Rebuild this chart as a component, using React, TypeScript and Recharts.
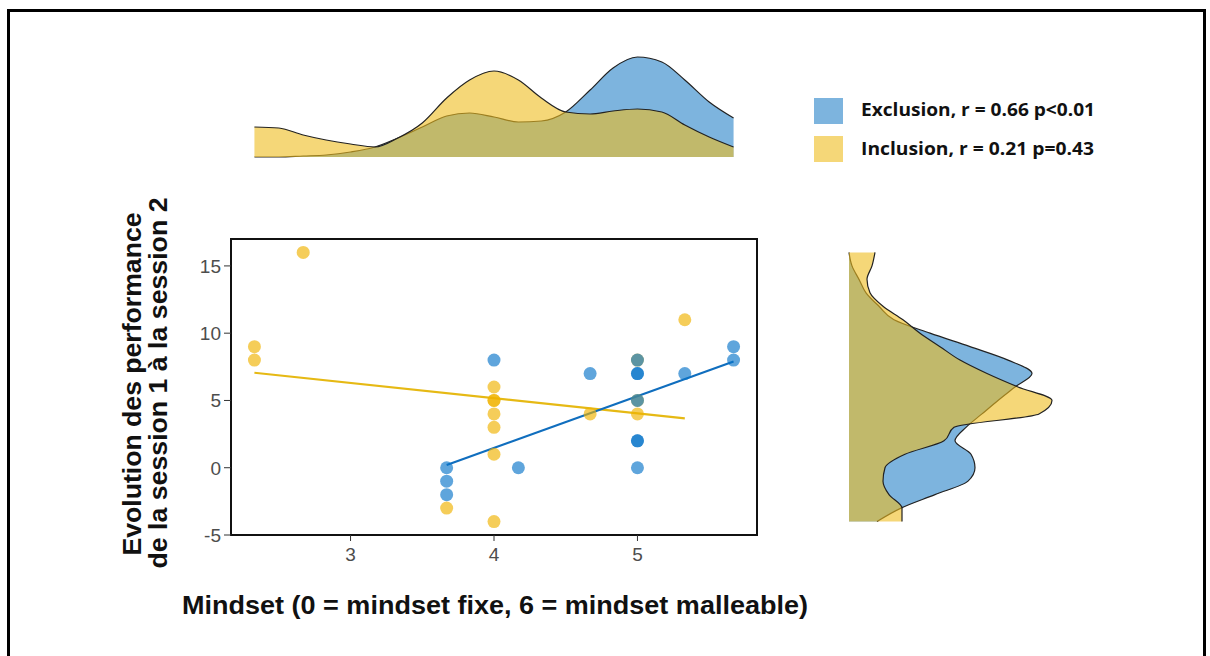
import {
  ComposedChart, Scatter, Line, XAxis, YAxis, ReferenceArea, AreaChart, Area,
} from 'recharts'

const EXCL = '#0975c9' // points exclusion
const INCL = '#f0b200' // points inclusion
const EXCL_LINE = '#106ebe'
const INCL_LINE = '#e6b914'
const EXCL_FILL = '#2682c8' // densité, alpha 0.6
const INCL_FILL = '#eebc1e'
const TXT = '#4d4d4d'

const xDomain = [2.1667, 5.8333]
const yDomain = [-5, 17]
const xTicks = [3, 4, 5]
const yTicks = [-5, 0, 5, 10, 15]

// nuage de points (mindset, évolution)
const exclusionPts = [
  { x: 3.67, y: 0 }, { x: 3.67, y: -1 }, { x: 3.67, y: -2 }, { x: 4, y: 8 },
  { x: 4.17, y: 0 }, { x: 4.67, y: 7 }, { x: 5, y: 8 }, { x: 5, y: 7 },
  { x: 5, y: 7 }, { x: 5, y: 5 }, { x: 5, y: 2 }, { x: 5, y: 2 },
  { x: 5, y: 0 }, { x: 5.33, y: 7 }, { x: 5.67, y: 9 }, { x: 5.67, y: 8 },
]
const inclusionPts = [
  { x: 2.33, y: 9 }, { x: 2.33, y: 8 }, { x: 2.67, y: 16 }, { x: 3.67, y: -3 },
  { x: 4, y: 6 }, { x: 4, y: 5 }, { x: 4, y: 5 }, { x: 4, y: 4 },
  { x: 4, y: 3 }, { x: 4, y: 1 }, { x: 4, y: -4 }, { x: 4.67, y: 4 },
  { x: 5, y: 8 }, { x: 5, y: 5 }, { x: 5, y: 4 }, { x: 5.33, y: 11 },
]

// droites de régression (extrémités)
const exclusionFit = [{ x: 3.67, y: 0.2 }, { x: 5.67, y: 7.9 }]
const inclusionFit = [{ x: 2.33, y: 7.06 }, { x: 5.33, y: 3.67 }]

// densité marginale du haut (mindset)
const topX = [2.33, 2.5, 2.67, 2.83, 3, 3.17, 3.33, 3.5, 3.67, 3.83, 4, 4.17, 4.33, 4.5, 4.67, 4.83, 5, 5.17, 5.33, 5.5, 5.67]
const topExcl = [0, 0, 0.01, 0.02, 0.05, 0.1, 0.19, 0.3, 0.41, 0.44, 0.4, 0.35, 0.36, 0.45, 0.67, 0.89, 1.0, 0.95, 0.77, 0.55, 0.39]
const topIncl = [0.3, 0.29, 0.22, 0.17, 0.13, 0.1, 0.19, 0.34, 0.59, 0.77, 0.86, 0.77, 0.59, 0.45, 0.43, 0.46, 0.48, 0.45, 0.32, 0.2, 0.1]

// densité marginale de droite (évolution)
const sideY = [-4, -3, -2, -1, 0, 1, 2, 3, 4, 5, 6, 7, 8, 9, 10, 11, 12, 13, 14, 15, 16]
const sideExcl = [0.28, 0.52, 0.86, 1.19, 1.26, 1.22, 1.06, 1.17, 1.33, 1.49, 1.66, 1.83, 1.59, 1.21, 0.81, 0.45, 0.3, 0.17, 0.1, 0.03, 0]
const sideIncl = [0.53, 0.53, 0.4, 0.34, 0.36, 0.56, 0.95, 1.05, 1.9, 2.03, 1.69, 1.38, 1.11, 0.91, 0.71, 0.54, 0.34, 0.21, 0.18, 0.23, 0.26]

const topData = topX.map((x, i) => ({ x, excl: topExcl[i], incl: topIncl[i] }))
const sideData = sideY.map((y, i) => ({ y, excl: sideExcl[i], incl: sideIncl[i] }))

const dot = (color: string) => (p: any) => (
  <circle cx={p.cx} cy={p.cy} r={6.5} fill={color} fillOpacity={0.65} />
)

const tickFont = 'Liberation Sans, Arial, sans-serif'

// étiquettes de graduation (taille imposée)
const XTick = (p: any) => (
  <text x={p.x} y={p.y} dy={14} textAnchor="middle" fontSize={19} fill={TXT} fontFamily={tickFont}>
    {p.payload.value}
  </text>
)
const YTick = (p: any) => (
  <text x={p.x} y={p.y} dy={7} textAnchor="end" fontSize={19} fill={TXT} fontFamily={tickFont}>
    {p.payload.value}
  </text>
)

function ScatterPanel() {
  return (
    <ComposedChart width={800} height={580} margin={{ top: 239, right: 43, left: 171, bottom: 15 }}>
      <XAxis type="number" dataKey="x" domain={xDomain} ticks={xTicks} allowDataOverflow
        axisLine={false} tickLine={{ stroke: '#333' }} tickSize={6} tickMargin={6} height={30} tick={XTick} />
      <YAxis type="number" dataKey="y" domain={yDomain} ticks={yTicks} allowDataOverflow
        axisLine={false} tickLine={{ stroke: '#333' }} tickSize={7} tickMargin={3} width={60} tick={YTick} />
      <ReferenceArea x1={xDomain[0]} x2={xDomain[1]} y1={yDomain[0]} y2={yDomain[1]}
        fill="none" stroke="#111" strokeWidth={2} ifOverflow="visible" />
      <Scatter data={inclusionPts} shape={dot(INCL)} isAnimationActive={false} />
      <Scatter data={exclusionPts} shape={dot(EXCL)} isAnimationActive={false} />
      <Line data={inclusionFit} dataKey="y" type="linear" stroke={INCL_LINE} strokeWidth={2.2} dot={false} isAnimationActive={false} />
      <Line data={exclusionFit} dataKey="y" type="linear" stroke={EXCL_LINE} strokeWidth={2.2} dot={false} isAnimationActive={false} />
    </ComposedChart>
  )
}

function TopDensity() {
  return (
    <AreaChart width={800} height={200} data={topData} margin={{ top: 57, right: 43, left: 231, bottom: 43 }}>
      <XAxis type="number" dataKey="x" domain={xDomain} hide />
      <YAxis type="number" domain={[0, 1]} hide />
      <Area type="monotone" dataKey="excl" fill={EXCL_FILL} fillOpacity={0.6} stroke="#222" strokeWidth={1.2} isAnimationActive={false} />
      <Area type="monotone" dataKey="incl" fill={INCL_FILL} fillOpacity={0.6} stroke="#222" strokeWidth={1.2} isAnimationActive={false} />
    </AreaChart>
  )
}

function SideDensity() {
  return (
    <AreaChart width={1100} height={580} data={sideData} layout="vertical" margin={{ top: 239, right: 41, left: 849, bottom: 45 }}>
      <XAxis type="number" domain={[0, 2.1]} hide />
      <YAxis type="number" dataKey="y" domain={yDomain} reversed hide />
      <Area type="monotone" dataKey="excl" fill={EXCL_FILL} fillOpacity={0.6} stroke="#222" strokeWidth={1.2} isAnimationActive={false} />
      <Area type="monotone" dataKey="incl" fill={INCL_FILL} fillOpacity={0.6} stroke="#222" strokeWidth={1.2} isAnimationActive={false} />
    </AreaChart>
  )
}

const abs = { position: 'absolute' as const, left: 0, top: 0 }
const titleFont = 'Liberation Sans, Arial, sans-serif'
const legendFont = 'Open Sans, Lato, sans-serif'

export default function App() {
  return (
    <div style={{ position: 'absolute', left: 0, top: 0, width: 1210, height: 656, overflow: 'hidden', background: '#fff' }}>
      <div style={{ position: 'absolute', left: 7, top: 9, width: 1199, height: 700, border: '3px solid #000', boxSizing: 'border-box' }} />
      <div style={abs}><TopDensity /></div>
      <div style={abs}><SideDensity /></div>
      <div style={abs}><ScatterPanel /></div>
      <svg width={1210} height={656} style={{ ...abs, pointerEvents: 'none' }}>
        <text x={495} y={614} textAnchor="middle" fontFamily={titleFont} fontWeight="bold" fontSize={25}
          textLength={626} lengthAdjust="spacingAndGlyphs" fill="#111">
          Mindset (0 = mindset fixe, 6 = mindset malleable)
        </text>
        <text transform="translate(141,384) rotate(-90)" textAnchor="middle" fontFamily={titleFont} fontWeight="bold" fontSize={25}
          textLength={343} lengthAdjust="spacingAndGlyphs" fill="#111">
          Evolution des performance
        </text>
        <text transform="translate(167,383) rotate(-90)" textAnchor="middle" fontFamily={titleFont} fontWeight="bold" fontSize={25}
          textLength={371} lengthAdjust="spacingAndGlyphs" fill="#111">
          de la session 1 à la session 2
        </text>
        <rect x={814} y={98} width={29} height={26} fill={EXCL_FILL} fillOpacity={0.6} />
        <rect x={814} y={136} width={29} height={26} fill={INCL_FILL} fillOpacity={0.6} />
        <text x={861} y={116} fontFamily={legendFont} fontWeight="bold" fontSize={17}
          textLength={234} lengthAdjust="spacingAndGlyphs" fill="#111">
          Exclusion, r = 0.66 p&lt;0.01
        </text>
        <text x={861} y={155} fontFamily={legendFont} fontWeight="bold" fontSize={17}
          textLength={233} lengthAdjust="spacingAndGlyphs" fill="#111">
          Inclusion, r = 0.21 p=0.43
        </text>
      </svg>
    </div>
  )
}
